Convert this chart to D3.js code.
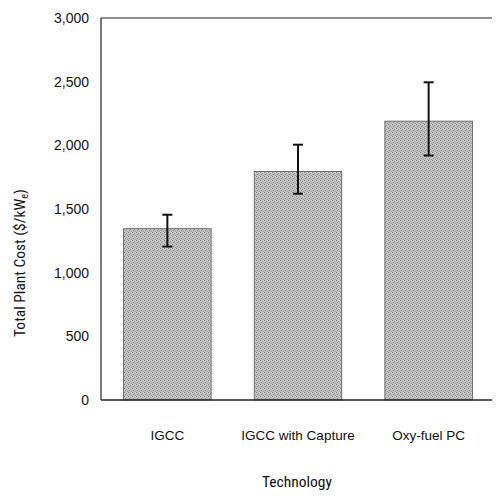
<!DOCTYPE html>
<html><head><meta charset="utf-8">
<script src="https://cdn.jsdelivr.net/npm/d3@7"></script>
<style>
body{margin:0;background:#fff;}
text{font-family:"Liberation Sans Narrow","Roboto Condensed","Liberation Sans",sans-serif;fill:#111;}
</style></head>
<body>
<svg id="chart" width="496" height="498"></svg>
<script>
const categories = ["IGCC", "IGCC with Capture", "Oxy-fuel PC"];
const values = [1345, 1795, 2190];
const errLow = [1205, 1620, 1920];
const errHigh = [1455, 2005, 2495];
const yTicks = [0, 500, 1000, 1500, 2000, 2500, 3000];

const svg = d3.select("#chart");
const m = {left:101, right:4, top:18, bottom:98};
const W = 496, H = 498;

const x = d3.scaleBand().domain(categories).range([m.left + 3, W - m.right]).paddingInner(0.33).paddingOuter(0.15);
const y = d3.scaleLinear().domain([0, 3000]).range([H - m.bottom, m.top]);

// texture pattern
const defs = svg.append("defs");
const pat = defs.append("pattern").attr("id","tex").attr("patternUnits","userSpaceOnUse").attr("width",4).attr("height",4);
pat.append("rect").attr("width",4).attr("height",4).attr("fill","#c2c2c2");
pat.append("rect").attr("x",0).attr("y",0).attr("width",1).attr("height",1).attr("fill","#7a7a7a");
pat.append("rect").attr("x",2).attr("y",1).attr("width",1).attr("height",1).attr("fill","#949494");
pat.append("rect").attr("x",1).attr("y",2).attr("width",1).attr("height",1).attr("fill","#858585");
pat.append("rect").attr("x",3).attr("y",3).attr("width",1).attr("height",1).attr("fill","#9a9a9a");
pat.append("rect").attr("x",3).attr("y",0).attr("width",1).attr("height",1).attr("fill","#d8d8d8");
pat.append("rect").attr("x",1).attr("y",1).attr("width",1).attr("height",1).attr("fill","#d4d4d4");

// bars
svg.append("g").selectAll("rect").data(categories).join("rect")
  .attr("x", d => x(d))
  .attr("y", (d,i) => y(values[i]))
  .attr("width", x.bandwidth())
  .attr("height", (d,i) => y(0) - y(values[i]))
  .attr("fill", "url(#tex)")
  .attr("stroke", "#555").attr("stroke-width", 0.8);

// axes lines (left, top, bottom)
svg.append("line").attr("x1", m.left).attr("x2", m.left).attr("y1", y(3000)).attr("y2", y(0)).attr("stroke","#222").attr("stroke-width",1.2);
svg.append("line").attr("x1", m.left).attr("x2", W - m.right).attr("y1", y(3000)).attr("y2", y(3000)).attr("stroke","#222").attr("stroke-width",1.2);
svg.append("line").attr("x1", m.left).attr("x2", W - m.right).attr("y1", y(0)).attr("y2", y(0)).attr("stroke","#222").attr("stroke-width",1.4);

// y axis labels
const yAxis = d3.axisLeft(y).tickValues(yTicks).tickSize(0).tickPadding(12).tickFormat(d3.format(","));
const ga = svg.append("g").attr("transform", `translate(${m.left},0)`).call(yAxis);
ga.select(".domain").remove();
ga.selectAll("text").attr("font-size", 14).style("font-family", '"Liberation Sans Narrow","Liberation Sans",sans-serif').attr("fill","#111");

// error bars
const eb = svg.append("g").attr("stroke","#111").attr("stroke-width",2);
categories.forEach((c,i) => {
  const cx = x(c) + x.bandwidth()/2;
  eb.append("line").attr("x1",cx).attr("x2",cx).attr("y1",y(errHigh[i])).attr("y2",y(errLow[i]));
  eb.append("line").attr("x1",cx-5).attr("x2",cx+5).attr("y1",y(errHigh[i])).attr("y2",y(errHigh[i]));
  eb.append("line").attr("x1",cx-5).attr("x2",cx+5).attr("y1",y(errLow[i])).attr("y2",y(errLow[i]));
});

// x labels
const xa = d3.axisBottom(x).tickSize(0).tickPadding(30);
const gx = svg.append("g").attr("transform", `translate(0,${y(0)})`).call(xa);
gx.select(".domain").remove();
gx.selectAll("text").attr("font-size", 13.5).style("font-family", '"Liberation Sans Narrow","Liberation Sans",sans-serif').attr("fill","#111");

// axis titles
svg.append("text").attr("x", 297).attr("y", 487).attr("text-anchor","middle").attr("font-size",15.5).text("Technology");
const yt = svg.append("text").attr("transform","translate(25,263) rotate(-90)").attr("text-anchor","middle").attr("font-size",15.5);
yt.append("tspan").text("Total Plant Cost ($/kW");
yt.append("tspan").attr("font-size",10).attr("dy",3).text("e");
yt.append("tspan").attr("dy",-3).text(")");
</script>
</body></html>
